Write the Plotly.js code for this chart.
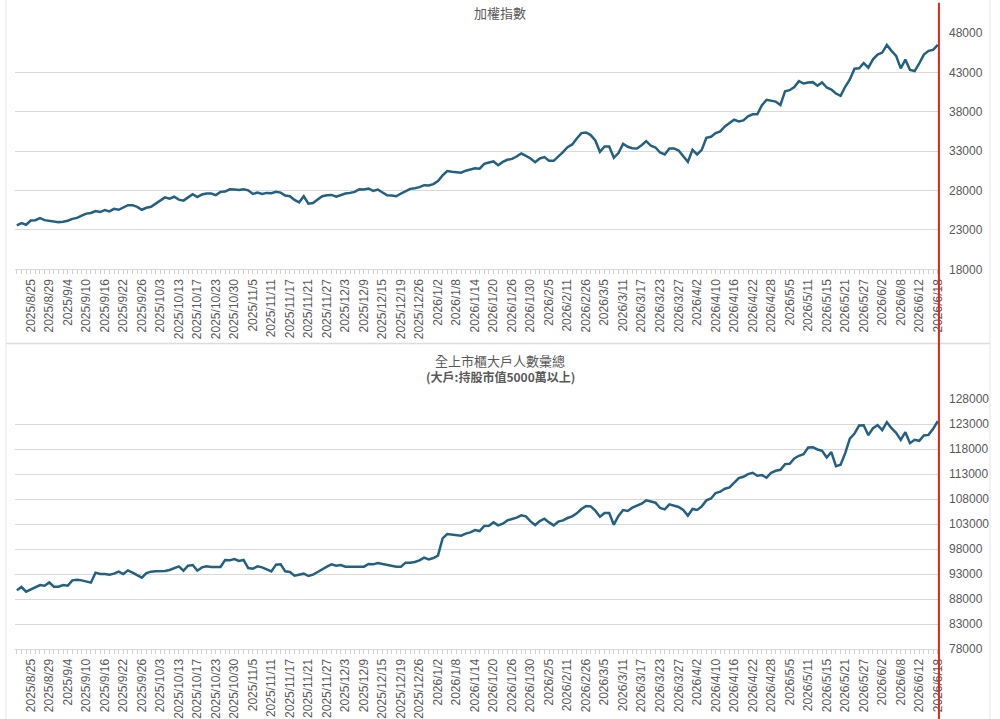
<!DOCTYPE html>
<html>
<head>
<meta charset="utf-8">
<script src="https://cdn.plot.ly/plotly-3.0.1.min.js"></script>
<style>
  html, body { margin: 0; padding: 0; background: #fff; }
  #chart { width: 1000px; height: 719px; }
</style>
</head>
<body>
<div id="chart"></div>
<script>
// trading days per month (Taiwan market calendar)
var dias2025_8  = [20,21,22,25,26,27,28,29];
var dias2025_9  = [1,2,3,4,5,8,9,10,11,12,15,16,17,18,19,22,23,24,25,26,30];
var dias2025_10 = [1,2,3,7,8,9,13,14,15,16,17,20,21,22,23,27,28,29,30,31];
var dias2025_11 = [3,4,5,6,7,10,11,12,13,14,17,18,19,20,21,24,25,26,27,28];
var dias2025_12 = [1,2,3,4,5,8,9,10,11,12,15,16,17,18,19,22,23,24,26,29,30,31];
var dias2026_1  = [2,5,6,7,8,9,12,13,14,15,16,19,20,21,22,23,26,27,28,29,30];
var dias2026_2  = [2,3,4,5,6,9,10,11,23,24,25,26];
var dias2026_3  = [2,3,4,5,6,9,10,11,12,13,16,17,18,19,20,23,24,25,26,27,30,31];
var dias2026_4  = [1,2,7,8,9,10,13,14,15,16,17,20,21,22,23,24,27,28,29,30];
var dias2026_5  = [4,5,6,7,8,11,12,13,14,15,18,19,20,21,22,25,26,27,28,29];
var dias2026_6  = [1,2,3,4,5,8,9,10,11,12,15,16,17,18];

var meses = [
  ['2025/8', dias2025_8], ['2025/9', dias2025_9], ['2025/10', dias2025_10],
  ['2025/11', dias2025_11], ['2025/12', dias2025_12], ['2026/1', dias2026_1],
  ['2026/2', dias2026_2], ['2026/3', dias2026_3], ['2026/4', dias2026_4],
  ['2026/5', dias2026_5], ['2026/6', dias2026_6]
];
var fechas = [];
meses.forEach(function(m){
  m[1].forEach(function(d){ fechas.push(m[0] + '/' + d); });
});

var etiquetas = ['2025/8/25','2025/8/29','2025/9/4','2025/9/10','2025/9/16','2025/9/22','2025/9/26',
  '2025/10/3','2025/10/13','2025/10/17','2025/10/23','2025/10/30','2025/11/5','2025/11/11',
  '2025/11/17','2025/11/21','2025/11/27','2025/12/3','2025/12/9','2025/12/15','2025/12/19',
  '2025/12/26','2026/1/2','2026/1/8','2026/1/14','2026/1/20','2026/1/26','2026/1/30','2026/2/5',
  '2026/2/11','2026/2/26','2026/3/5','2026/3/11','2026/3/17','2026/3/23','2026/3/27','2026/4/2',
  '2026/4/10','2026/4/16','2026/4/22','2026/4/28','2026/5/5','2026/5/11','2026/5/15','2026/5/21',
  '2026/5/27','2026/6/2','2026/6/8','2026/6/12','2026/6/18'];

// 加權指數
var indice = [
  23580,23870,23660,24200,24240,24490,24240,24160,24070,23990,
  24030,24160,24400,24530,24820,25070,25150,25400,25270,25520,
  25350,25680,25560,25850,26140,26140,25930,25560,25810,25930,
  26300,26680,27130,26960,27210,26840,26720,27130,27540,27170,
  27500,27630,27630,27420,27830,27870,28160,28120,28080,28160,
  28020,27570,27740,27570,27700,27660,27830,27740,27360,27270,
  26800,26500,27270,26330,26420,26850,27270,27400,27440,27230,
  27440,27620,27700,27830,28170,28130,28260,27960,28130,27740,
  27400,27360,27270,27620,27960,28210,28300,28430,28680,28640,
  28810,29200,29920,30480,30390,30350,30260,30520,30650,30820,
  30770,31380,31560,31690,31220,31640,31900,32020,32320,32700,
  32410,32070,31600,32070,32240,31770,31770,32280,32870,33510,
  33850,34610,35290,35370,35040,34360,32920,33590,33590,32150,
  32750,33930,33550,33380,33340,33760,34270,33680,33470,32830,
  32580,33340,33340,33080,32410,31640,33170,32580,33170,34700,
  34830,35290,35500,36140,36570,36990,36780,36910,37420,37680,
  37680,38830,39510,39420,39290,38870,40610,40740,41130,41890,
  41590,41720,41760,41300,41720,41080,40830,40320,40020,41170,
  42110,43470,43510,44190,43600,44660,45260,45510,46490,45730,
  45090,43510,44620,43300,43170,44150,45260,45730,45850,46490
];

// 全上市櫃大戶人數彙總
var grandes = [
  89730,90400,89470,89930,90470,90800,90670,91330,90470,90470,
  90800,90670,91730,91870,91730,91530,91270,93270,93000,93000,
  92870,93070,93470,93000,93730,93270,92730,92270,93200,93470,
  93530,93530,93600,93800,94130,94530,93670,94670,94800,93670,
  94330,94530,94400,94400,94400,95800,95730,96000,95600,95800,
  94200,94070,94530,94330,94000,93530,94870,94930,93530,93400,
  92670,92800,93070,92600,92870,93400,94000,94470,94930,94670,
  94800,94470,94470,94470,94470,94470,95000,94930,95200,95000,
  94800,94730,94470,94470,95270,95270,95400,95730,96270,95930,
  96200,96670,100130,101000,100870,100670,100670,101070,101330,101800,
  101600,102600,102670,103330,102730,103070,103730,104000,104270,104730,
  104530,103530,102800,103600,104070,103330,102730,103470,103730,104200,
  104530,105130,106000,106600,106530,105670,104470,105200,105200,102870,
  104600,105800,105600,106270,106600,107070,107730,107470,107270,106200,
  105930,106930,106730,106400,105800,104670,106000,105800,106530,107730,
  108100,109200,109460,110060,110330,111330,112190,112460,112990,113250,
  112660,112790,112260,113250,113650,113850,114980,115050,116110,116650,
  116980,118310,118370,117910,117640,116310,117380,114580,114850,117180,
  120100,121100,122700,122760,120770,122160,122760,121770,123360,122160,
  121230,119840,121370,119170,119840,119640,120700,120830,122030,123560
];

var colorLinea = '#236082';
var gris = '#595959';
var fuente = 'Liberation Sans, Arial, Noto Sans CJK TC, sans-serif';

var textos = fechas.map(function(f){ return etiquetas.indexOf(f) >= 0 ? f : ''; });

function ejeX(anchor){
  return {
    type: 'category', anchor: anchor,
    range: [-0.4, 199.05],
    tickmode: 'array', tickvals: fechas, ticktext: textos,
    tickangle: -90, ticks: 'outside', ticklen: 4, tickcolor: '#cfcfcf',
    showline: true, linecolor: '#d9d9d9', showgrid: false,
    tickfont: {family: fuente, size: 12, color: gris}
  };
}

function ejeY(dominio, rango){
  return {
    domain: dominio, side: 'right', range: rango,
    tick0: rango[0], dtick: 5000, tickformat: 'd',
    showgrid: true, gridcolor: '#d9d9d9',
    zeroline: false, ticks: '', ticklabelstandoff: 10,
    tickfont: {family: fuente, size: 12, color: gris}
  };
}

var data = [
  {x: fechas, y: indice, type: 'scatter', mode: 'lines', xaxis: 'x', yaxis: 'y',
   line: {color: colorLinea, width: 2.5}, hoverinfo: 'x+y'},
  {x: fechas, y: grandes, type: 'scatter', mode: 'lines', xaxis: 'x2', yaxis: 'y2',
   line: {color: colorLinea, width: 2.5}, hoverinfo: 'x+y'}
];

var layout = {
  width: 1000, height: 719,
  margin: {l: 15, r: 62, t: 33, b: 70},
  paper_bgcolor: '#fff', plot_bgcolor: '#fff',
  showlegend: false,
  font: {family: fuente, color: gris},
  xaxis: ejeX('y'),
  xaxis2: ejeX('y2'),
  yaxis: ejeY([0.6164, 1], [18000, 48000]),
  yaxis2: ejeY([0, 0.4058], [78000, 128000]),
  annotations: [
    {text: '加權指數', xref: 'paper', yref: 'paper', x: 0.5255, y: 1.034,
     xanchor: 'center', yanchor: 'middle',
     showarrow: false, font: {family: 'Noto Sans CJK TC', size: 13, color: gris}},
    {text: '全上市櫃大戶人數彙總', xref: 'paper', yref: 'paper', x: 0.5255, y: 0.469,
     xanchor: 'center', yanchor: 'middle',
     showarrow: false, font: {family: 'Noto Sans CJK TC', size: 13, color: gris}},
    {text: '<b>(大戶:持股市值5000萬以上)</b>', xref: 'paper', yref: 'paper', x: 0.5255, y: 0.4416,
     xanchor: 'center', yanchor: 'middle',
     showarrow: false, font: {family: 'Noto Sans CJK TC', size: 12, color: gris}}
  ],
  shapes: [
    // separator between panels
    {type: 'line', xref: 'paper', yref: 'paper', x0: -0.0098, x1: 1.0563, y0: 0.496, y1: 0.496,
     line: {color: '#dcdcdc', width: 1.5}},
    {type: 'line', xref: 'paper', yref: 'paper', x0: -0.0098, x1: -0.0098, y0: -0.12, y1: 1.06,
     line: {color: '#e6e6e6', width: 1}},
    {type: 'line', xref: 'paper', yref: 'paper', x0: 1.0563, x1: 1.0563, y0: -0.12, y1: 1.06,
     line: {color: '#e6e6e6', width: 1}},
    // red marker line
    {type: 'line', xref: 'paper', yref: 'paper', x0: 1.001, x1: 1.001, y0: -0.12, y1: 1.049,
     line: {color: '#e0241f', width: 2}}
  ]
};

Plotly.newPlot('chart', data, layout, {displayModeBar: false, staticPlot: true});
</script>
</body>
</html>
